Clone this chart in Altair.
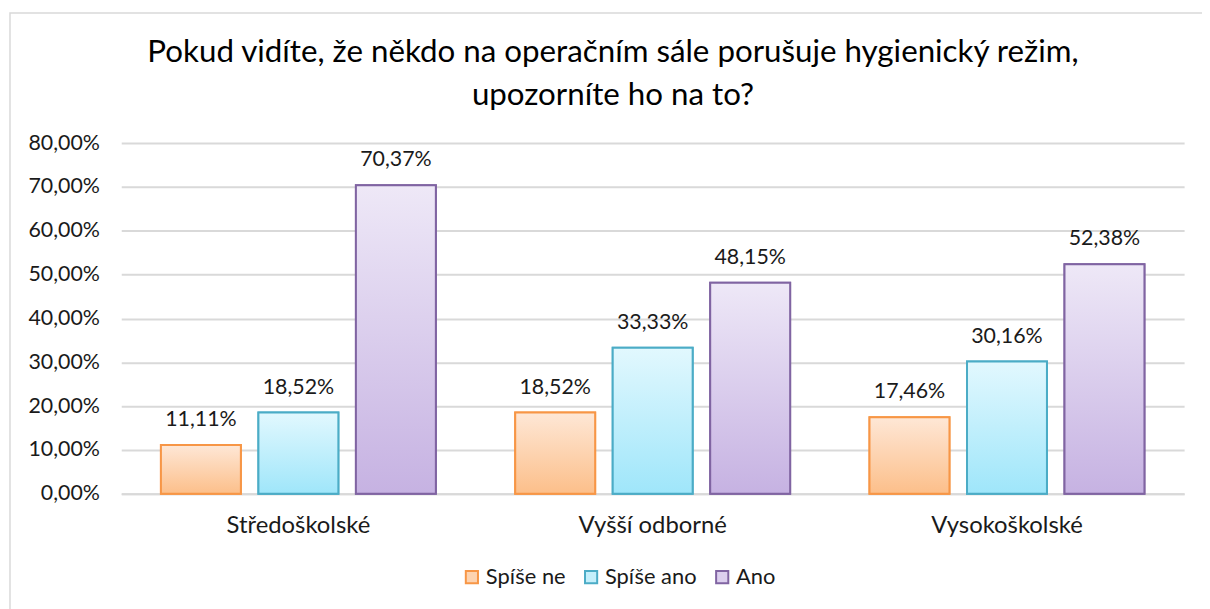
import altair as alt
import pandas as pd

categories = ["Středoškolské", "Vyšší odborné", "Vysokoškolské"]
series = ["Spíše ne", "Spíše ano", "Ano"]
spise_ne = [11.11, 18.52, 17.46]
spise_ano = [18.52, 33.33, 30.16]
ano = [70.37, 48.15, 52.38]
title_lines = ["Pokud vidíte, že někdo na operačním sále porušuje hygienický režim,",
               "upozorníte ho na to?"]

border_colors = ["#F79646", "#4BACC6", "#8064A2"]
mid_colors = ["#FDD3B0", "#C4EFFB", "#DCCFEE"]
grad_top = ["#FEE7D6", "#E2F8FE", "#EEE8F7"]
grad_bottom = ["#FCBF8A", "#9FE6FA", "#C6B2E2"]

rows = []
for s, vals in zip(series, [spise_ne, spise_ano, ano]):
    for c, v in zip(categories, vals):
        rows.append({"cat": c, "series": s, "value": v})
df = pd.DataFrame(rows)

FONT = "Lato"
TXT = "#1a1a1a"

x_enc = alt.X("cat:N", sort=categories,
              scale=alt.Scale(domain=categories, paddingInner=0.224, paddingOuter=0.112),
              axis=alt.Axis(title=None, labelAngle=0, labelFontSize=24, labelFont=FONT,
                            labelColor=TXT, labelPadding=20, ticks=False,
                            domainColor="#D9D9D9", domainWidth=2))
xo_enc = alt.XOffset("series:N", sort=series,
                     scale=alt.Scale(domain=series, paddingInner=0.18, paddingOuter=0))
y_enc = alt.Y("value:Q",
              scale=alt.Scale(domain=[0, 80], nice=False),
              axis=alt.Axis(title=None, values=[0, 10, 20, 30, 40, 50, 60, 70, 80],
                            labelExpr="replace(format(datum.value, '.2f'), '.', ',') + '%'",
                            labelFontSize=21.5, labelFont=FONT, labelColor=TXT,
                            labelPadding=22, ticks=False, domain=False,
                            gridColor="#D9D9D9", gridWidth=2))

leg = alt.Legend(title=None, orient="none", legendX=342, legendY=426,
                 direction="horizontal", labelFontSize=22, labelFont=FONT,
                 labelColor=TXT, symbolType="square", symbolSize=150,
                 symbolStrokeWidth=2, labelOffset=3, columnPadding=14)

base = alt.Chart(df)

legend_layer = base.mark_bar(strokeWidth=2).encode(
    x=x_enc, xOffset=xo_enc, y=y_enc,
    fill=alt.Fill("series:N", sort=series,
                  scale=alt.Scale(domain=series, range=mid_colors), legend=leg),
    stroke=alt.Stroke("series:N", sort=series,
                      scale=alt.Scale(domain=series, range=border_colors), legend=leg),
)

grad_layers = []
for i, s in enumerate(series):
    g = {"gradient": "linear", "x1": 0, "y1": 0, "x2": 0, "y2": 1,
         "stops": [{"offset": 0, "color": grad_top[i]},
                   {"offset": 1, "color": grad_bottom[i]}]}
    grad_layers.append(
        base.transform_filter(alt.datum.series == s).mark_bar(strokeWidth=2).encode(
            x=x_enc, xOffset=xo_enc, y=y_enc,
            fill=alt.value(g),
            stroke=alt.value(border_colors[i]),
        )
    )

labels = base.transform_calculate(
    label="replace(format(datum.value, '.2f'), '.', ',') + '%'"
).mark_text(baseline="bottom", dy=-14, fontSize=21.5, font=FONT, color=TXT).encode(
    x=x_enc, xOffset=xo_enc, y=y_enc, text="label:N"
)

one = pd.DataFrame({"a": [0]})
frame = alt.Chart(one).mark_rect(
    fill=None, stroke="#D9D9D9", strokeWidth=1.5
).encode(
    x=alt.value(-112), y=alt.value(-131), x2=alt.value(1200), y2=alt.value(600)
)

title = alt.Chart(one).mark_text(
    fontSize=31.5, font=FONT, color="#000000", align="center", baseline="alphabetic",
    lineHeight=44, text=title_lines
).encode(x=alt.value(495), y=alt.value(-82))

chart = alt.layer(frame, legend_layer, *grad_layers, labels, title).properties(
    width=1070, height=353,
    background="white",
    autosize=alt.AutoSizeParams(type="none"),
    padding={"left": 114, "top": 134, "right": 18, "bottom": 114},
).configure_view(stroke=None)

chart.save("out.html", embed_options={"renderer": "svg", "actions": False})
